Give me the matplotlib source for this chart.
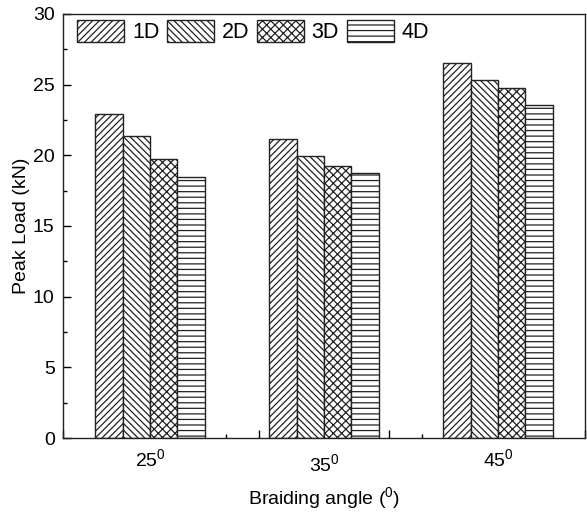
import numpy as np
import matplotlib
matplotlib.use('Agg')
import matplotlib.pyplot as plt

plt.rcParams['font.family'] = ['Liberation Sans', 'DejaVu Sans']
plt.rcParams['mathtext.fontset'] = 'custom'
plt.rcParams['mathtext.rm'] = 'Liberation Sans'
plt.rcParams['mathtext.it'] = 'Liberation Sans:italic'
plt.rcParams['hatch.linewidth'] = 0.9

# data
angles = ['25$^{\\mathregular{0}}$', '35$^{\\mathregular{0}}$', '45$^{\\mathregular{0}}$']
series = ['1D', '2D', '3D', '4D']
load_1d = [22.93, 21.15, 26.55]
load_2d = [21.35, 19.95, 25.30]
load_3d = [19.75, 19.22, 24.75]
load_4d = [18.48, 18.78, 23.55]
hatches = ['/////', '\\\\\\\\\\', 'xxxx', '---']

values = [load_1d, load_2d, load_3d, load_4d]
x = np.arange(len(angles))
width = 0.157

fig = plt.figure(figsize=(5.87, 5.12), dpi=100)
ax = fig.add_axes([0.1073, 0.1445, 0.8893, 0.8282])

for i, (name, vals, h) in enumerate(zip(series, values, hatches)):
    offs = (i - 1.5) * width
    ax.bar(x + offs, vals, width, facecolor='white', edgecolor='#222222',
           linewidth=1.0, hatch=h, label=name)

ax.set_axisbelow(True)
ax.set_xlim(-0.5, 2.5)
ax.set_ylim(0, 30)

# Origin-style tick marks on x, labels at the group centres
ax.set_xticks(np.arange(-0.5, 2.51, 0.375))
ax.set_xticks(np.arange(-0.3125, 2.5, 0.375), minor=True)
ax.set_xticklabels([])
ax.tick_params(axis='x', which='major', direction='in', length=6, width=1)
ax.tick_params(axis='x', which='minor', direction='in', length=3, width=1)

sec = ax.secondary_xaxis('bottom')
sec.set_xticks(x)
sec.set_xticklabels(angles, fontsize=14)
sec.tick_params(length=0, pad=7)
sec.spines['bottom'].set_visible(False)
sec.xaxis.get_major_ticks()[1].set_pad(11)
sec.set_xlabel('Braiding angle ($^{\\mathregular{0}}$)', fontsize=14, labelpad=7)

ax.set_yticks(np.arange(0, 31, 5))
ax.set_yticks(np.arange(2.5, 30, 5), minor=True)
ax.tick_params(axis='y', which='major', direction='in', length=6, width=1, labelsize=14, pad=6)
ax.tick_params(axis='y', which='minor', direction='in', length=3, width=1)
ax.set_ylabel('Peak Load (kN)', fontsize=14, labelpad=2)

for s in ax.spines.values():
    s.set_linewidth(1.0)
    s.set_color('#222222')

ax.legend(loc='upper left', bbox_to_anchor=(0.027, 0.985), ncol=4, frameon=False,
          fontsize=15.5, handlelength=2.2, handleheight=1.15, handletextpad=0.35,
          columnspacing=0.35, borderpad=0, borderaxespad=0)

fig.savefig('out.png', dpi=100)
